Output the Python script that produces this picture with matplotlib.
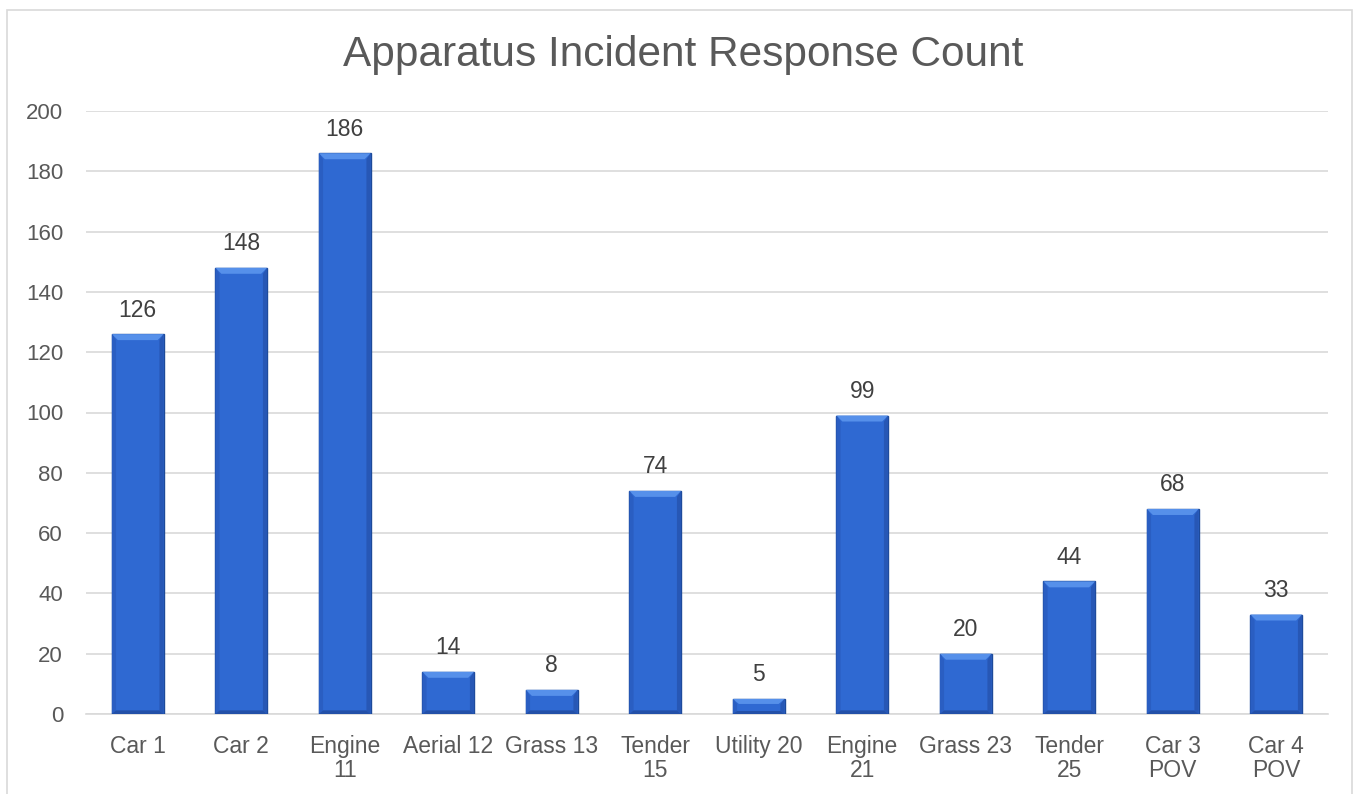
import matplotlib.pyplot as plt
from matplotlib.patches import Rectangle, Polygon

apparatus = ['Car 1', 'Car 2', 'Engine\n11', 'Aerial 12', 'Grass 13', 'Tender\n15',
             'Utility 20', 'Engine\n21', 'Grass 23', 'Tender\n25', 'Car 3\nPOV', 'Car 4\nPOV']
responses = [126, 148, 186, 14, 8, 74, 5, 99, 20, 44, 68, 33]

plt.rcParams['font.family'] = ['Liberation Sans', 'DejaVu Sans']

fig = plt.figure(figsize=(13.6, 7.94), dpi=100)
fig.patches.append(Rectangle((7/1360, -0.01), 1345/1360, 1 - 10/794 + 0.01,
                             transform=fig.transFigure, fill=False,
                             edgecolor='#D9D9D9', linewidth=1.2))

ax = fig.add_axes([86/1360, 80/794, (1328-86)/1360, (714-111)/794])
x = range(len(apparatus))
barras = ax.bar(x, responses, width=0.5, color='#2F69D2', edgecolor='#1D4A9A',
                linewidth=1.0, zorder=3)
ax.bar_label(barras, labels=[str(v) for v in responses], padding=9,
             fontsize=16.5, color='#404040')

ax.set_xlim(-0.5, len(apparatus) - 0.5)
ax.set_ylim(0, 200)

# bevel effect: depth of a few px converted to data units
fig.canvas.draw()
px = ax.transData.inverted()
x0d, y0d = px.transform((0, 0))
x1d, y1d = px.transform((6, 6))
dx, dy = x1d - x0d, y1d - y0d
for b in barras:
    bx, bw, bh = b.get_x(), b.get_width(), b.get_height()
    d = min(dy, bh / 3)
    dxs = dx * 0.7
    top = [(bx, bh), (bx + bw, bh), (bx + bw - dx, bh - d), (bx + dx, bh - d)]
    bot = [(bx, 0), (bx + bw, 0), (bx + bw - dxs, d * 0.6), (bx + dxs, d * 0.6)]
    left = [(bx, 0), (bx, bh), (bx + dxs, bh - d), (bx + dxs, d * 0.6)]
    right = [(bx + bw, 0), (bx + bw, bh), (bx + bw - dxs, bh - d), (bx + bw - dxs, d * 0.6)]
    for pts, c in [(left, '#2A5EC2'), (right, '#2757B5'), (bot, '#2350A8'), (top, '#5690EA')]:
        ax.add_patch(Polygon(pts, closed=True, facecolor=c, edgecolor='none', zorder=4))

ax.set_yticks(range(0, 201, 20))
ax.set_xticks(list(x))
ax.set_xticklabels(apparatus, fontsize=16.5, color='#595959', linespacing=1.05)
ax.tick_params(axis='y', labelsize=16, labelcolor='#595959', length=0, pad=16.5)
ax.tick_params(axis='x', length=0, pad=15)
ax.grid(axis='y', color='#D9D9D9', linewidth=1.2, zorder=0)
for s in ['top', 'right', 'left']:
    ax.spines[s].set_visible(False)
ax.spines['bottom'].set_color('#D9D9D9')
ax.spines['bottom'].set_linewidth(1.2)

fig.text(683/1360, 1 - 55/794, 'Apparatus Incident Response Count', ha='center',
         va='center', fontsize=30.5, color='#595959')

fig.savefig('out.png', dpi=100)
